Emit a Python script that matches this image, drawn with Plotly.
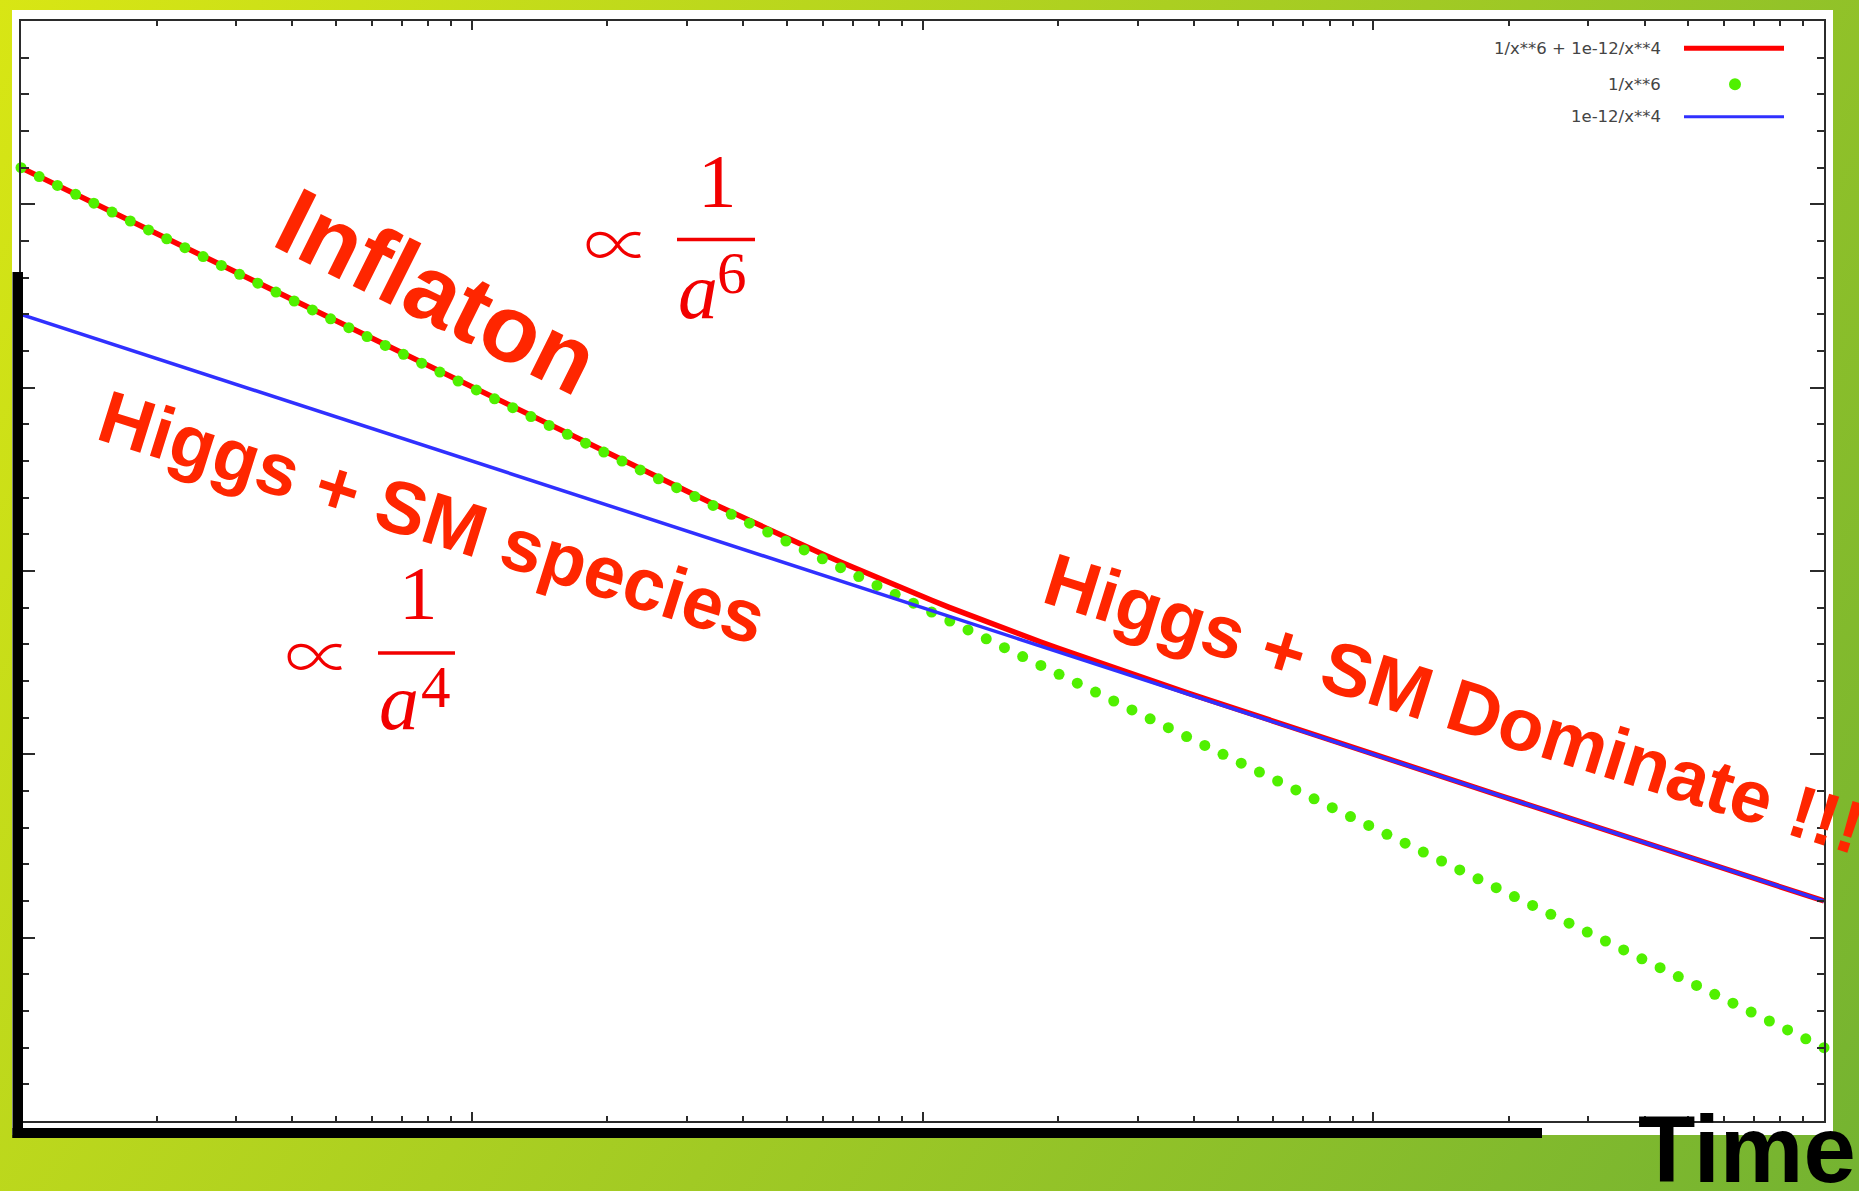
import base64
import numpy as np
import plotly.graph_objects as go

# ---- curves listed in the key: rho(x) = coeff / x**power ----
INFLATON_COEFF = 1.0
INFLATON_POWER = 6
SM_COEFF = 1e-12
SM_POWER = 4
X_RANGE = [1e4, 1e8]
Y_RANGE = [1e-50, 1e-20]
N_SAMPLES = 100  # gnuplot default sampling

SERIES_LABELS = ["1/x**6 + 1e-12/x**4", "1/x**6", "1e-12/x**4"]
SERIES_COLORS = ["#ff0000", "#50f000", "#3030ff"]

x = np.geomspace(X_RANGE[0], X_RANGE[1], N_SAMPLES)
inflaton = INFLATON_COEFF / x**INFLATON_POWER
higgs_sm = SM_COEFF / x**SM_POWER
total = inflaton + higgs_sm

# ---- page geometry (pixels) ----
W, H = 1859, 1191
ML, MR, MT, MB = 21, 35, 21, 70
PW, PH = W - ML - MR, H - MT - MB


def px(xp):
    return (xp - ML) / PW


def py(yp):
    return (H - MB - yp) / PH


fig = go.Figure()
fig.add_trace(go.Scatter(x=x, y=total, mode="lines", name=SERIES_LABELS[0],
                         line=dict(color=SERIES_COLORS[0], width=5.5),
                         cliponaxis=False))
fig.add_trace(go.Scatter(x=x, y=inflaton, mode="markers", name=SERIES_LABELS[1],
                         marker=dict(color=SERIES_COLORS[1], size=11, line=dict(width=0)),
                         cliponaxis=False))
fig.add_trace(go.Scatter(x=x, y=higgs_sm, mode="lines", name=SERIES_LABELS[2],
                         line=dict(color=SERIES_COLORS[2], width=3.5),
                         cliponaxis=False))

# decade ticks: long ones where gnuplot puts labels, short ones in between
x_major = [10.0**d for d in range(5, 8)]
x_minor = [k * 10.0**d for d in range(4, 8) for k in range(2, 10)]
y_major = [10.0**d for d in range(-45, -20, 5)]
y_minor = [10.0**d for d in range(-49, -20) if d % 5 != 0]

axis_common = dict(type="log", showgrid=False, zeroline=False, showline=True,
                   linecolor="#2b2b2b", linewidth=2, mirror="ticks",
                   ticks="inside", tickwidth=1.5, tickcolor="#2b2b2b",
                   showticklabels=False, tickmode="array")

fig.update_xaxes(**axis_common, range=[np.log10(X_RANGE[0]), np.log10(X_RANGE[1])],
                 tickvals=x_major, ticklen=9,
                 minor=dict(ticks="inside", ticklen=5, tickwidth=1.5,
                            tickcolor="#2b2b2b", tickmode="array",
                            tickvals=x_minor, showgrid=False))
fig.update_yaxes(**axis_common, range=[np.log10(Y_RANGE[0]), np.log10(Y_RANGE[1])],
                 tickvals=y_major, ticklen=14,
                 minor=dict(ticks="inside", ticklen=7.5, tickwidth=1.5,
                            tickcolor="#2b2b2b", tickmode="array",
                            tickvals=y_minor, showgrid=False))

# ---- slide background: diagonal yellow-green gradient ----
bg_svg = (
    f'<svg xmlns="http://www.w3.org/2000/svg" width="{W}" height="{H}" '
    f'viewBox="0 0 {W} {H}" preserveAspectRatio="none"><defs>'
    '<linearGradient id="g" gradientUnits="userSpaceOnUse" x1="0" y1="0" x2="1871" y2="1170">'
    '<stop offset="0" stop-color="#d8e614"/><stop offset="1" stop-color="#74b331"/>'
    f'</linearGradient></defs><rect width="{W}" height="{H}" fill="url(#g)"/></svg>'
)
bg_src = "data:image/svg+xml;base64," + base64.b64encode(bg_svg.encode()).decode()

fig.add_layout_image(dict(source=bg_src, xref="paper", yref="paper",
                          x=px(0), y=py(0), sizex=W / PW, sizey=H / PH,
                          xanchor="left", yanchor="top", sizing="stretch",
                          layer="below"))

shapes = [
    # white panel holding the plot
    dict(type="rect", xref="paper", yref="paper", x0=px(12), x1=px(1833),
         y0=py(1135), y1=py(10), fillcolor="white", line=dict(width=0), layer="below"),
    # thick black axes of the slide
    dict(type="rect", xref="paper", yref="paper", x0=px(12.5), x1=px(23),
         y0=py(1138), y1=py(272), fillcolor="black", line=dict(width=0)),
    dict(type="rect", xref="paper", yref="paper", x0=px(12.5), x1=px(1542),
         y0=py(1138), y1=py(1128), fillcolor="black", line=dict(width=0)),
    # key samples
    dict(type="line", xref="paper", yref="paper", x0=px(1684), x1=px(1784),
         y0=py(48.3), y1=py(48.3), line=dict(color=SERIES_COLORS[0], width=5)),
    dict(type="circle", xref="paper", yref="paper", x0=px(1729), x1=px(1741),
         y0=py(90.3), y1=py(78.3), fillcolor=SERIES_COLORS[1], line=dict(width=0)),
    dict(type="line", xref="paper", yref="paper", x0=px(1684), x1=px(1784),
         y0=py(116.7), y1=py(116.7), line=dict(color=SERIES_COLORS[2], width=3)),
    # fraction bars
    dict(type="line", xref="paper", yref="paper", x0=px(677), x1=px(755),
         y0=py(239.5), y1=py(239.5), line=dict(color="#f20000", width=3.5)),
    dict(type="line", xref="paper", yref="paper", x0=px(378), x1=px(455),
         y0=py(653), y1=py(653), line=dict(color="#f20000", width=3.5)),
]
fig.update_layout(shapes=shapes)

annotations = []
key_y = [48.3, 84.3, 116.7]
for label, ky in zip(SERIES_LABELS, key_y):
    annotations.append(dict(text=label, x=px(1663), y=py(ky), xref="paper", yref="paper",
                            xanchor="right", yanchor="middle", showarrow=False,
                            font=dict(family="DejaVu Sans", size=16.5, color="#444444")))

RED = "#ff2600"
bold_sans = "Liberation Sans"
for text, cx, cy, ang, size in [
    ("Inflaton", 437, 291, 26.5, 95),
    ("Higgs + SM species", 432, 517, 17.4, 74),
    ("Higgs + SM Dominate !!!", 1454, 704, 17.3, 74),
]:
    annotations.append(dict(text=text, x=px(cx), y=py(cy), xref="paper", yref="paper",
                            xanchor="center", yanchor="middle", showarrow=False,
                            textangle=ang,
                            font=dict(family=bold_sans, size=size, color=RED, weight="bold")))

annotations.append(dict(text="Time", x=px(1747), y=py(1149), xref="paper", yref="paper",
                        xanchor="center", yanchor="middle", showarrow=False,
                        font=dict(family=bold_sans, size=94, color="black", weight="bold")))

# proportionality formulas, set piece by piece
MATH = "#f20000"
serif = "Liberation Serif, DejaVu Serif, serif"
prop_font = "Noto Sans CJK JP, DejaVu Serif, serif"
for text, cx, cy, size, italic, family, weight in [
    ("\u221d", 617, 240, 67, False, prop_font, 300),
    ("1", 717, 181, 77, False, serif, "normal"),
    ("a", 698, 291, 80, True, serif, "normal"),
    ("6", 732, 273, 59, False, serif, "normal"),
    ("\u221d", 318, 653, 67, False, prop_font, 300),
    ("1", 418, 593, 77, False, serif, "normal"),
    ("a", 399, 702, 80, True, serif, "normal"),
    ("4", 436, 687, 59, False, serif, "normal"),
]:
    annotations.append(dict(text=f"<i>{text}</i>" if italic else text,
                            x=px(cx), y=py(cy), xref="paper", yref="paper",
                            xanchor="center", yanchor="middle", showarrow=False,
                            font=dict(family=family, size=size, color=MATH, weight=weight)))

fig.update_layout(
    annotations=annotations,
    width=W, height=H,
    margin=dict(l=ML, r=MR, t=MT, b=MB, pad=0),
    paper_bgcolor="#a6cc24",
    plot_bgcolor="rgba(0,0,0,0)",
    showlegend=False,
)

fig.write_html("out.html", config={"displayModeBar": False})
